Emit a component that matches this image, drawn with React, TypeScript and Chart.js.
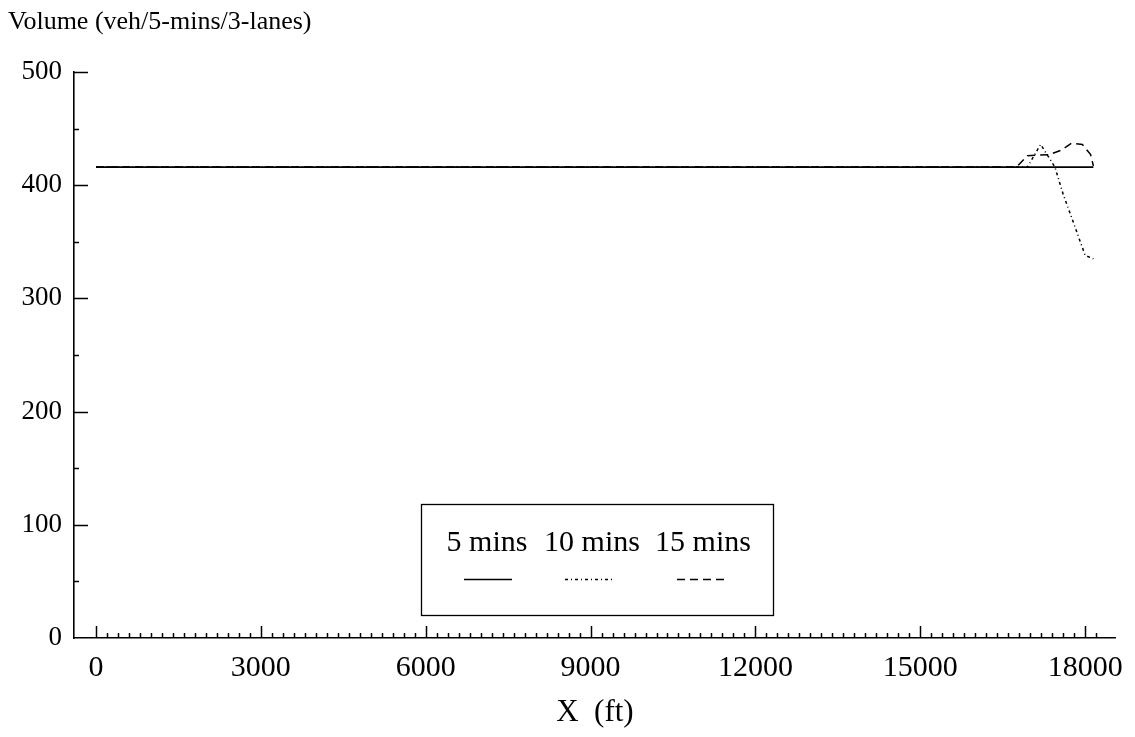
import React, { useEffect, useRef } from "react";
import { Chart, registerables } from "chart.js";

Chart.register(...registerables);

const FONT = "'Liberation Serif', 'Times New Roman', serif";

// Data
const fiveMinX = [0, 16750, 18150];
const fiveMinY = [416, 416, 416];

const tenMinX = [0, 16950, 17190, 17450, 17600, 17750, 18000, 18150];
const tenMinY = [416, 416, 436, 416, 392, 372, 338, 335];

const fifteenMinX = [0, 16750, 16950, 17350, 17570, 17750, 17950, 18100, 18150];
const fifteenMinY = [416, 416, 426, 427, 431, 437, 436, 427, 417];

const seriesLabels = ["5 mins", "10 mins", "15 mins"];
const xTickValues = [0, 3000, 6000, 9000, 12000, 15000, 18000];
const yTickValues = [0, 100, 200, 300, 400, 500];
const yTitle = "Volume (veh/5-mins/3-lanes)";
const xTitle = "X  (ft)";

const toPts = (xs: number[], ys: number[]) => xs.map((x, i) => ({ x, y: ys[i] }));

const dashes: number[][] = [[], [3, 3, 1, 3], [8, 5]];

const extrasPlugin = {
  id: "extras",
  afterDraw(chart: any) {
    const ctx = chart.ctx;
    const xs = chart.scales.x;
    const ys = chart.scales.y;
    const area = chart.chartArea;
    ctx.save();
    ctx.strokeStyle = "#000";
    ctx.lineWidth = 1.5;
    // y ticks (inward)
    for (let v = 50; v <= 500; v += 50) {
      const py = Math.round(ys.getPixelForValue(v)) + 0.5;
      const len = v % 100 === 0 ? 14 : 5;
      ctx.beginPath();
      ctx.moveTo(area.left, py);
      ctx.lineTo(area.left + len, py);
      ctx.stroke();
    }
    // x ticks (inward)
    for (let v = 0; v <= 18200; v += 200) {
      const px = Math.round(xs.getPixelForValue(v)) + 0.5;
      const len = v % 3000 === 0 ? 12 : 5;
      ctx.beginPath();
      ctx.moveTo(px, area.bottom);
      ctx.lineTo(px, area.bottom - len);
      ctx.stroke();
    }
    // title
    ctx.fillStyle = "#000";
    ctx.font = `26px ${FONT}`;
    ctx.textAlign = "left";
    ctx.textBaseline = "middle";
    ctx.fillText(yTitle, 8, 22);

    // legend box
    ctx.lineWidth = 1.3;
    ctx.strokeRect(421.5, 504.5, 352, 111);
    const textCenters = [487, 592, 703];
    const sampleCenters = [488, 589, 701];
    ctx.font = `30px ${FONT}`;
    ctx.textAlign = "center";
    seriesLabels.forEach((lab, i) => {
      ctx.fillText(lab, textCenters[i], 543);
      ctx.beginPath();
      ctx.setLineDash(dashes[i]);
      ctx.lineWidth = 1.4;
      ctx.moveTo(sampleCenters[i] - 24, 579.5);
      ctx.lineTo(sampleCenters[i] + 24, 579.5);
      ctx.stroke();
    });
    ctx.setLineDash([]);
    ctx.restore();
  },
};

export default function App() {
  const ref = useRef<HTMLCanvasElement | null>(null);
  useEffect(() => {
    document.body.style.margin = "0";
    const series = [toPts(fiveMinX, fiveMinY), toPts(tenMinX, tenMinY), toPts(fifteenMinX, fifteenMinY)];
    const chart = new Chart(ref.current!, {
      type: "line",
      data: {
        datasets: series.map((d, i) => ({
          label: seriesLabels[i],
          data: d,
          borderColor: "#000",
          borderWidth: i === 0 ? 1.8 : 1.5,
          borderDash: dashes[i],
          pointRadius: 0,
          fill: false,
          tension: 0,
        })),
      },
      options: {
        animation: false,
        responsive: true,
        maintainAspectRatio: false,
        layout: { padding: { top: 72, right: 12, left: 0, bottom: 0 } },
        plugins: { legend: { display: false }, tooltip: { enabled: false }, title: { display: false } },
        scales: {
          x: {
            type: "linear",
            min: -400,
            max: 18560,
            afterBuildTicks: (s: any) => {
              s.ticks = xTickValues.map((v) => ({ value: v }));
            },
            afterFit: (s: any) => {
              s.height = 99;
            },
            grid: { display: false, drawTicks: false },
            border: { display: true, color: "#000", width: 1.6 },
            ticks: {
              color: "#000",
              font: { family: FONT, size: 30 },
              padding: 12,
              maxRotation: 0,
              autoSkip: false,
              callback: (v: any) => String(v),
            },
            title: {
              display: true,
              text: xTitle,
              color: "#000",
              font: { family: FONT, size: 31 },
              padding: { top: 0, bottom: 6 },
            },
          },
          y: {
            type: "linear",
            min: 0,
            max: 500,
            afterBuildTicks: (s: any) => {
              s.ticks = yTickValues.map((v) => ({ value: v }));
            },
            afterFit: (s: any) => {
              s.width = 74;
            },
            grid: { display: false, drawTicks: false },
            border: { display: true, color: "#000", width: 1.6 },
            ticks: {
              color: "#000",
              font: { family: FONT, size: 27 },
              padding: 12,
              callback: (v: any) => String(v),
            },
          },
        },
      },
      plugins: [extrasPlugin],
    });
    return () => chart.destroy();
  }, []);
  return (
    <div style={{ position: "absolute", left: 0, top: 0, width: 1135, height: 737, background: "#fff" }}>
      <canvas ref={ref} />
    </div>
  );
}
